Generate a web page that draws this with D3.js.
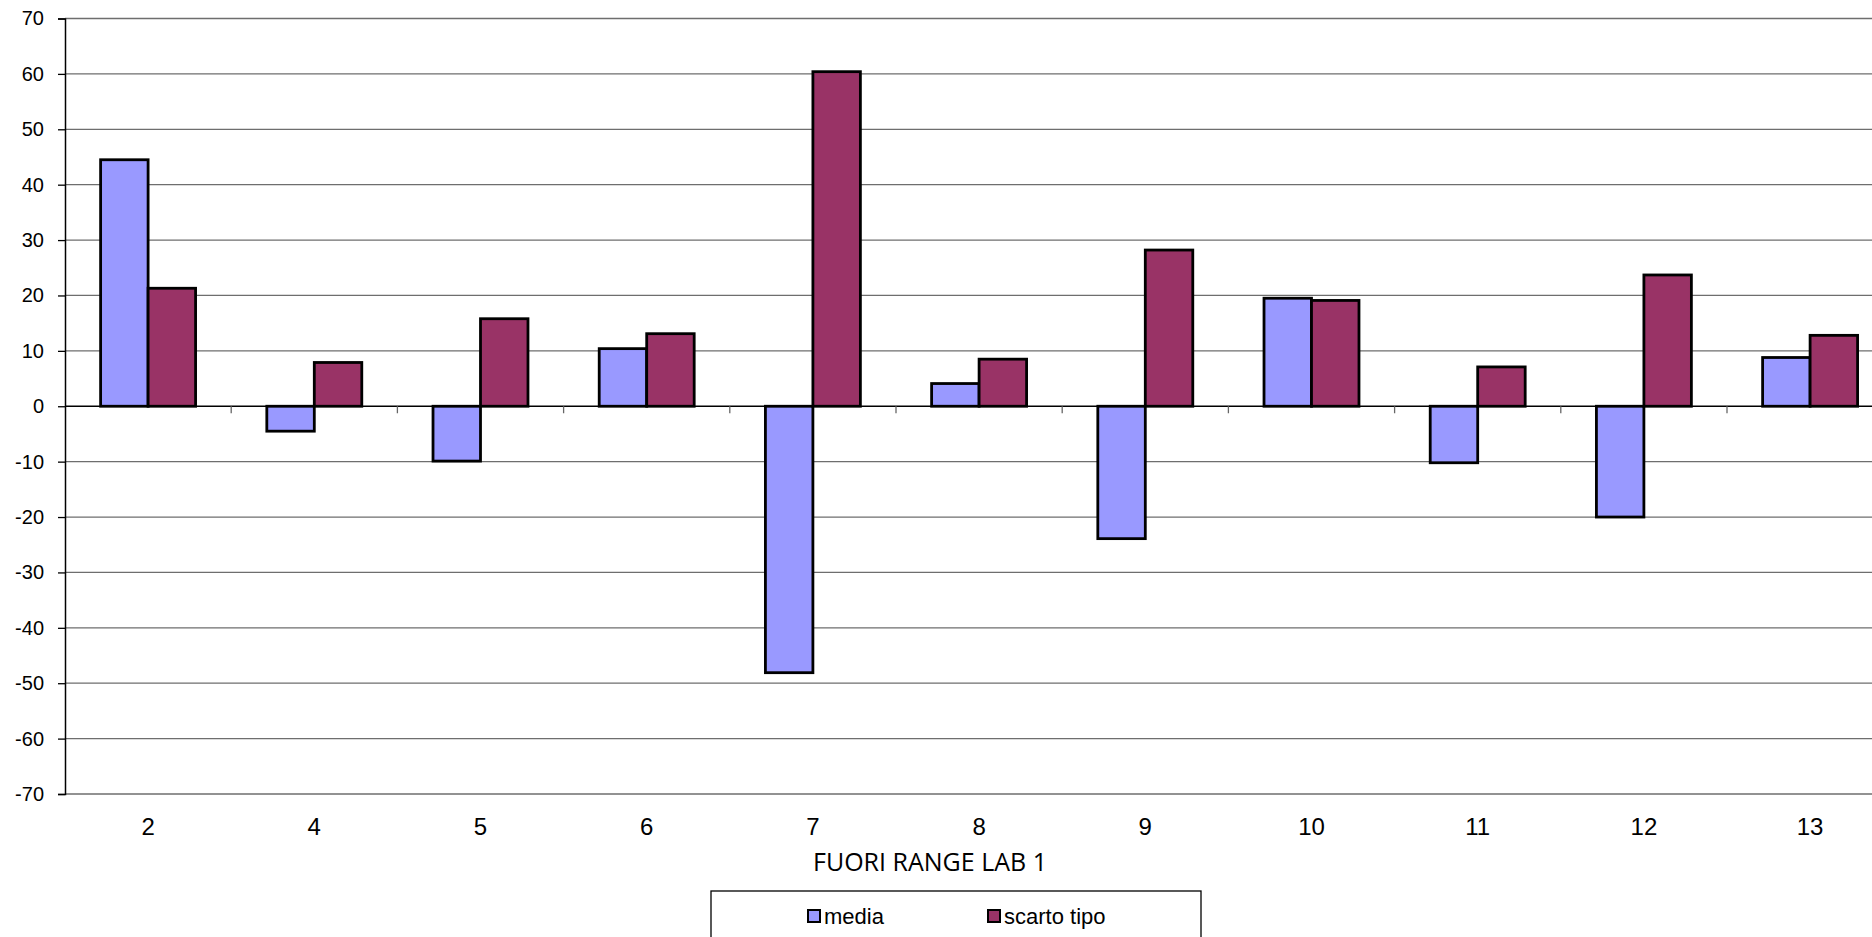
<!DOCTYPE html>
<html>
<head>
<meta charset="utf-8">
<script src="https://cdn.jsdelivr.net/npm/d3@7"></script>
<style>
  html, body { margin: 0; padding: 0; background: #fff; overflow: hidden; }
  svg { display: block; }
</style>
</head>
<body>
<svg id="chart" width="1872" height="937"></svg>
<script>
// ---- data ----
const categories = ["2", "4", "5", "6", "7", "8", "9", "10", "11", "12", "13"];
const media = [44.5, -4.5, -9.9, 10.4, -48.1, 4.1, -23.9, 19.5, -10.2, -20.0, 8.8];
const scartoTipo = [21.3, 7.9, 15.8, 13.1, 60.4, 8.5, 28.2, 19.1, 7.1, 23.7, 12.8];
const seriesNames = ["media", "scarto tipo"];
const seriesColors = ["#9999FF", "#993366"];
const yTicks = [70, 60, 50, 40, 30, 20, 10, 0, -10, -20, -30, -40, -50, -60, -70];
const axisTitle = "FUORI RANGE LAB 1";

const series = [media, scartoTipo];

// ---- layout ----
const svg = d3.select("#chart");
const plotLeft = 65, plotRight = 65 + 11 * 166.2;
const plotTop = 18.5, plotBottom = 794;

const x = d3.scaleBand().domain(categories).range([plotLeft, plotRight]).paddingInner(0).paddingOuter(0);
const y = d3.scaleLinear().domain([-70, 70]).range([plotBottom, plotTop]);

const bw = x.bandwidth() / 3.5; // gap width 150%

// gridlines
svg.append("g").selectAll("line").data(yTicks).join("line")
  .attr("x1", plotLeft).attr("x2", plotRight)
  .attr("y1", d => y(d)).attr("y2", d => y(d))
  .attr("stroke", d => d === 0 ? "#000" : "#6e6e6e")
  .attr("stroke-width", 1.3);

// y axis
const yAxis = d3.axisLeft(y).tickValues(yTicks).tickSize(7).tickPadding(14).tickFormat(d => String(d));
const gy = svg.append("g").attr("transform", `translate(${plotLeft},0)`).call(yAxis);
gy.select(".domain").attr("stroke", "#000").attr("stroke-width", 1.5);
gy.selectAll(".tick line").attr("stroke", "#000").attr("stroke-width", 1.3);
gy.selectAll(".tick text")
  .attr("font-family", "'Liberation Sans', Arial, sans-serif")
  .attr("font-size", 20).attr("fill", "#000");

// x category ticks at boundaries on zero line
const boundaries = categories.slice(1).map(c => x(c));
boundaries.push(plotRight);
svg.append("g").selectAll("line").data(boundaries).join("line")
  .attr("x1", d => d).attr("x2", d => d)
  .attr("y1", y(0)).attr("y2", y(0) + 7)
  .attr("stroke", "#666").attr("stroke-width", 1.3);

// x category labels
svg.append("g").selectAll("text").data(categories).join("text")
  .attr("x", d => x(d) + x.bandwidth() / 2)
  .attr("y", 827)
  .attr("dy", "0.35em")
  .attr("text-anchor", "middle")
  .attr("font-family", "'Liberation Sans', Arial, sans-serif")
  .attr("font-size", 24).attr("fill", "#000")
  .text(d => d);

// bars
series.forEach((vals, si) => {
  svg.append("g").selectAll("rect").data(vals).join("rect")
    .attr("x", (d, i) => x(categories[i]) + bw * (0.75 + si))
    .attr("width", bw)
    .attr("y", d => y(Math.max(0, d)))
    .attr("height", d => Math.abs(y(d) - y(0)))
    .attr("fill", seriesColors[si])
    .attr("stroke", "#000")
    .attr("stroke-width", 2.8);
});

// axis title
svg.append("text")
  .attr("x", 930).attr("y", 862).attr("dy", "0.35em")
  .attr("text-anchor", "middle")
  .attr("font-family", "'Open Sans', sans-serif")
  .attr("font-size", 25).attr("fill", "#000")
  .text(axisTitle);

// legend
const lg = svg.append("g");
lg.append("rect").attr("x", 711).attr("y", 891).attr("width", 490).attr("height", 80)
  .attr("fill", "#fff").attr("stroke", "#000").attr("stroke-width", 1.3);
const legendX = [808, 988];
seriesNames.forEach((name, i) => {
  lg.append("rect").attr("x", legendX[i]).attr("y", 910).attr("width", 12).attr("height", 12)
    .attr("fill", seriesColors[i]).attr("stroke", "#000").attr("stroke-width", 2);
  lg.append("text").attr("x", legendX[i] + 16).attr("y", 916).attr("dy", "0.35em")
    .attr("font-family", "'Liberation Sans', Arial, sans-serif")
    .attr("font-size", 22).attr("fill", "#000")
    .text(name);
});
</script>
</body>
</html>
